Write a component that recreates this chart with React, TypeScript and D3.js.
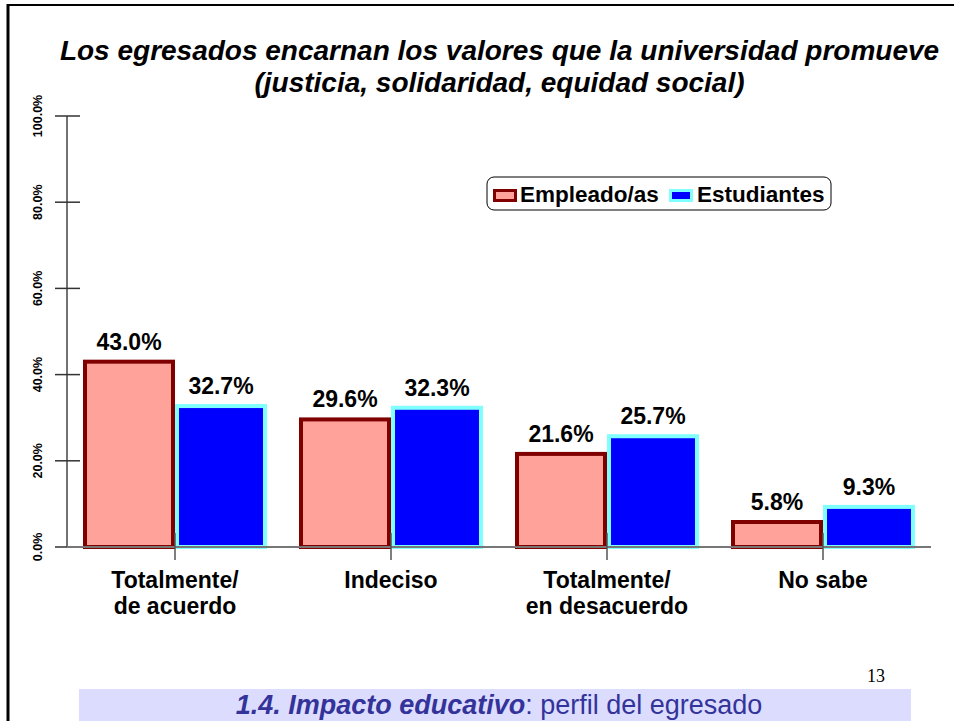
import React from "react";
import * as d3 from "d3";

const categories: string[][] = [
  ["Totalmente/", "de acuerdo"],
  ["Indeciso"],
  ["Totalmente/", "en desacuerdo"],
  ["No sabe"],
];
const categoryKeys = ["c1", "c2", "c3", "c4"];
const seriesNames = ["Empleado/as", "Estudiantes"];
const empleados = [43.0, 29.6, 21.6, 5.8];
const estudiantes = [32.7, 32.3, 25.7, 9.3];
const yTicks = [0, 20, 40, 60, 80, 100];
const titleLines = [
  "Los egresados encarnan los valores que la universidad promueve",
  "(justicia, solidaridad, equidad social)",
];
const footerBold = "1.4. Impacto educativo";
const footerRest = ": perfil del egresado";
const pageNumber = "13";

const W = 954;
const H = 721;
const FONT = "Liberation Sans, Arial, Helvetica, sans-serif";

const fills = ["#FFA29A", "#0000FF"];
const strokes = ["#800000", "#80FFFF"];

export default function App() {
  const x = d3
    .scaleBand<string>()
    .domain(categoryKeys)
    .range([67, 931])
    .paddingInner(32 / 216)
    .paddingOuter(16 / 216);
  const xs = d3
    .scaleBand<string>()
    .domain(seriesNames)
    .range([0, x.bandwidth()]);
  const y = d3.scaleLinear().domain([0, 100]).range([547, 116]);
  const seriesValues = [empleados, estudiantes];
  const fmt = (v: number) => d3.format(".1f")(v) + "%";

  return (
    <svg
      width={W}
      height={H}
      style={{ position: "absolute", left: 0, top: 0, background: "#fff" }}
      fontFamily={FONT}
    >
      {/* frame */}
      <line x1={8} x2={W} y1={5} y2={5} stroke="#000" strokeWidth={2} />
      <line x1={8} x2={8} y1={4} y2={H} stroke="#000" strokeWidth={3} />

      {/* title */}
      {titleLines.map((t, i) => (
        <text
          key={i}
          x={499.5}
          y={60 + i * 32}
          textAnchor="middle"
          fontSize={28}
          fontWeight="bold"
          fontStyle="italic"
          fill="#000"
        >
          {t}
        </text>
      ))}

      {/* y axis */}
      <line x1={67} x2={67} y1={y(100)} y2={y(0)} stroke="#444" strokeWidth={1.5} />
      {yTicks.map((t) => (
        <g key={t}>
          <line x1={55} x2={80} y1={y(t)} y2={y(t)} stroke="#333" strokeWidth={1.5} />
          <text
            transform={`translate(42,${y(t)}) rotate(-90)`}
            textAnchor="middle"
            fontSize={12.5}
            fontWeight="bold"
            fill="#000"
          >
            {fmt(t)}
          </text>
        </g>
      ))}

      {/* bars */}
      {seriesValues.map((vals, s) =>
        vals.map((v, i) => {
          const x0 = (x(categoryKeys[i]) as number) + (xs(seriesNames[s]) as number);
          const bw = xs.bandwidth();
          return (
            <rect
              key={`${s}-${i}`}
              x={x0 + 2}
              y={y(v)}
              width={bw - 4}
              height={y(0) - y(v)}
              fill={fills[s]}
              stroke={strokes[s]}
              strokeWidth={4}
            />
          );
        })
      )}

      {/* x axis */}
      <line x1={67} x2={931} y1={y(0)} y2={y(0)} stroke="#777" strokeWidth={2} />
      {categoryKeys.map((k) => (
        <line
          key={k}
          x1={(x(k) as number) + x.bandwidth() / 2}
          x2={(x(k) as number) + x.bandwidth() / 2}
          y1={533}
          y2={560}
          stroke="#555"
          strokeWidth={1.5}
        />
      ))}

      {/* value labels */}
      {seriesValues.map((vals, s) =>
        vals.map((v, i) => {
          const cx =
            (x(categoryKeys[i]) as number) +
            (xs(seriesNames[s]) as number) +
            xs.bandwidth() / 2;
          return (
            <text
              key={`l-${s}-${i}`}
              x={cx}
              y={y(v) - 12}
              textAnchor="middle"
              fontSize={23}
              fontWeight="bold"
              fill="#000"
            >
              {fmt(v)}
            </text>
          );
        })
      )}

      {/* category labels */}
      {categories.map((lines, i) => (
        <text
          key={`c-${i}`}
          textAnchor="middle"
          fontSize={23}
          fontWeight="bold"
          fill="#000"
        >
          {lines.map((ln, j) => (
            <tspan
              key={j}
              x={(x(categoryKeys[i]) as number) + x.bandwidth() / 2}
              y={588 + j * 26}
            >
              {ln}
            </tspan>
          ))}
        </text>
      ))}

      {/* legend */}
      <rect x={487} y={177} width={344} height={33} rx={7} ry={7} fill="#fff" stroke="#000" strokeWidth={1} />
      <rect x={494.5} y={190.5} width={21} height={10} fill={fills[0]} stroke={strokes[0]} strokeWidth={3} />
      <text x={520} y={202} fontSize={22.5} fontWeight="bold" fill="#000">
        {seriesNames[0]}
      </text>
      <rect x={670.5} y={190.5} width={21} height={10} fill={fills[1]} stroke={strokes[1]} strokeWidth={3} />
      <text x={697} y={202} fontSize={22.5} fontWeight="bold" fill="#000">
        {seriesNames[1]}
      </text>

      {/* page number */}
      <text x={867} y={682} fontSize={18} fontFamily="Liberation Serif, Times New Roman, serif" fill="#000">
        {pageNumber}
      </text>

      {/* footer band */}
      <rect x={79} y={689} width={832} height={H - 689} fill="#DCDCFF" />
      <text x={499} y={714} textAnchor="middle" fontSize={27} fill="#333399">
        <tspan fontWeight="bold" fontStyle="italic">{footerBold}</tspan>
        <tspan>{footerRest}</tspan>
      </text>
    </svg>
  );
}
